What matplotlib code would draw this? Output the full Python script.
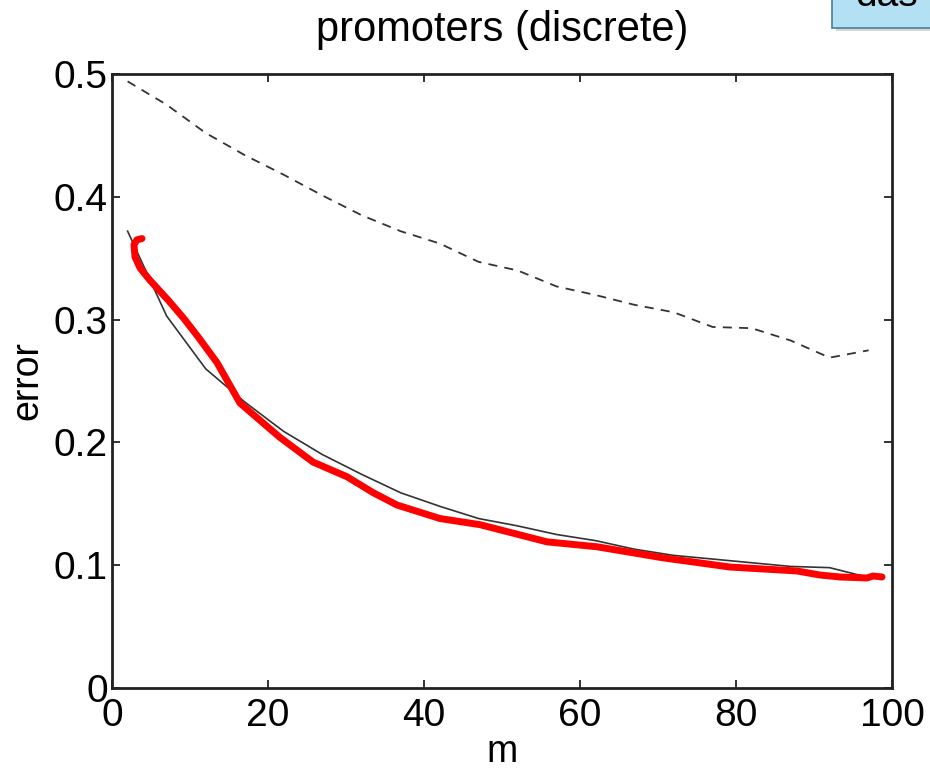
import matplotlib
matplotlib.use("Agg")
import matplotlib.pyplot as plt
from matplotlib.patches import Rectangle

plt.rcParams['font.family'] = ['Liberation Sans', 'DejaVu Sans']

# Data
m_grid = [2, 7, 12, 17, 22, 27, 32, 37, 42, 47, 52, 57, 62, 67, 72, 77, 82, 87, 92, 97]
err_dashed = [0.494, 0.475, 0.452, 0.434, 0.418, 0.401, 0.385, 0.372, 0.362, 0.347,
              0.340, 0.327, 0.320, 0.312, 0.306, 0.294, 0.293, 0.283, 0.269, 0.275]
err_solid = [0.372, 0.303, 0.260, 0.233, 0.209, 0.190, 0.174, 0.159, 0.148, 0.138,
             0.132, 0.125, 0.120, 0.113, 0.108, 0.105, 0.102, 0.099, 0.098, 0.090]
m_red = [3.85, 3.2, 2.82, 2.95, 3.6, 4.87, 7.18, 9.2, 11.03, 13.46, 16.41, 18.97, 21.54,
         25.77, 30.13, 33.5, 36.54, 42.05, 47.18, 55.77, 62.18, 70.64, 79.23, 87.82,
         90.77, 93.33, 96.79, 97.56, 98.72]
err_red = [0.366, 0.365, 0.361, 0.351, 0.342, 0.332, 0.316, 0.301, 0.286, 0.265, 0.232,
           0.218, 0.204, 0.184, 0.172, 0.159, 0.149, 0.138, 0.133, 0.119, 0.115, 0.106,
           0.0985, 0.0953, 0.092, 0.0904, 0.0896, 0.0912, 0.0904]
x_ticks = [0, 20, 40, 60, 80, 100]
y_ticks = [0, 0.1, 0.2, 0.3, 0.4, 0.5]
y_ticklabels = ['0', '0.1', '0.2', '0.3', '0.4', '0.5']

fig = plt.figure(figsize=(9.3, 7.75), dpi=100)
ax = fig.add_axes([112/930, 1-688/775, (892-112)/930, (688-74)/775])

ax.plot(m_grid, err_dashed, color='#333333', lw=1.3, dashes=(5, 4))
ax.plot(m_grid, err_solid, color='#333333', lw=1.2)
ax.plot(m_red, err_red, color='#ff0000', lw=5, solid_capstyle='round',
        solid_joinstyle='round')

ax.set_xlim(0, 100)
ax.set_ylim(0, 0.5)
ax.set_xticks(x_ticks)
ax.set_yticks(y_ticks)
ax.set_yticklabels(y_ticklabels)
ax.tick_params(direction='in', length=6, width=1.3, top=True, right=True,
               labelsize=28, pad=3, color='#222222')
ax.tick_params(axis='x', pad=7)
for s in ax.spines.values():
    s.set_linewidth(2.0)
    s.set_color('#222222')

ax.set_title('promoters (discrete)', fontsize=30, pad=24)
ax.set_xlabel('m', fontsize=27, labelpad=0)
ax.set_ylabel('error', fontsize=27, labelpad=6)

# partial callout box at top right
fig.patches.append(Rectangle((836/930, 1-31/775), 0.2, 0.1, transform=fig.transFigure,
                             facecolor='#999999', edgecolor='none', alpha=0.4, zorder=1))
fig.patches.append(Rectangle((832/930, 1-28/775), 0.2, 0.1, transform=fig.transFigure,
                             facecolor='#b4e0f4', edgecolor='#4a7f96', lw=1.2, zorder=2))
fig.text(855/930, 1-6/775, 'das', fontsize=28, va='baseline', ha='left', zorder=3)

fig.savefig('out.png', dpi=100)
